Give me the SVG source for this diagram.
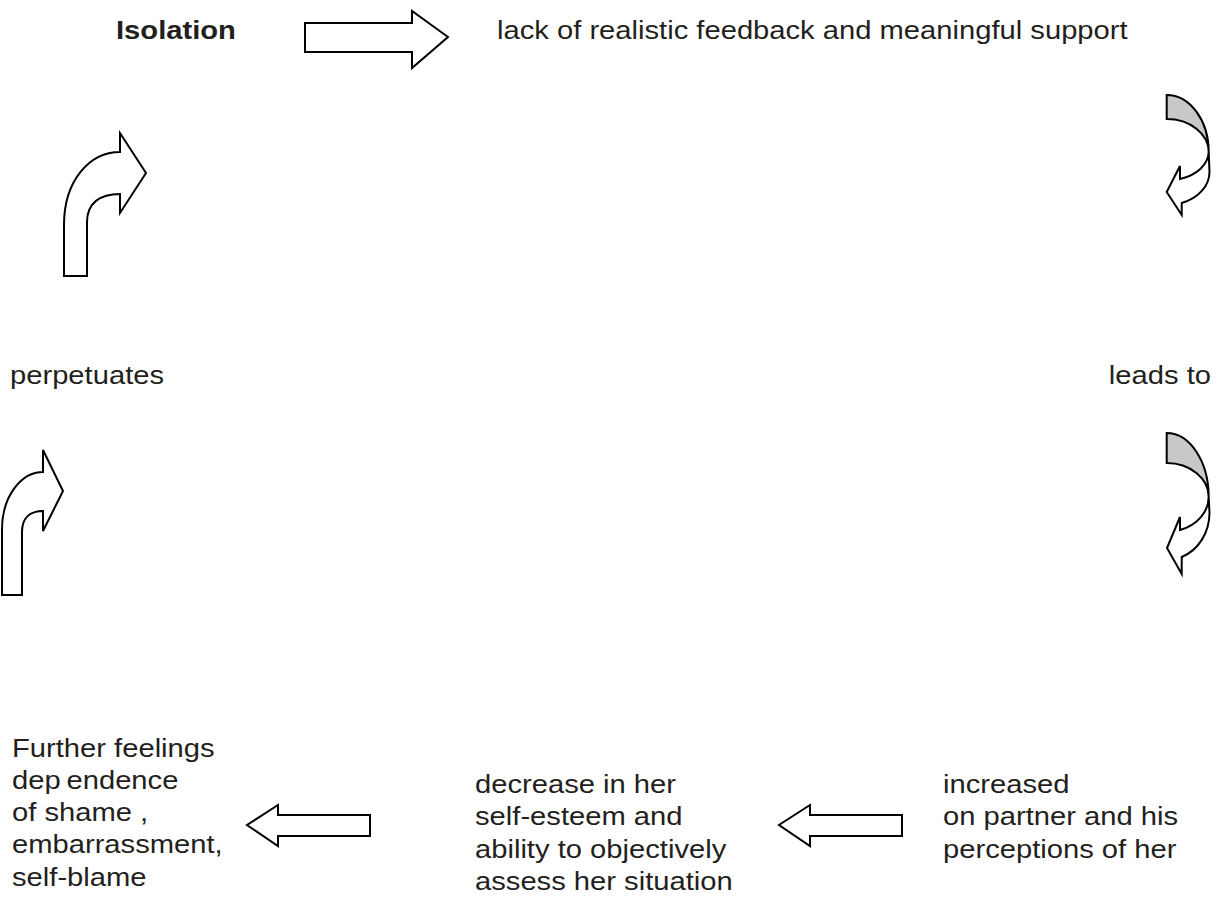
<svg xmlns="http://www.w3.org/2000/svg" width="1229" height="906" viewBox="0 0 1229 906">
<style>
.t{font-family:"Liberation Sans",Arial,sans-serif;font-size:25px;fill:#231f20}
.b{font-weight:bold}
.a{fill:#fff;stroke:#000;stroke-width:2;stroke-linejoin:miter}
.g{fill:#c8c8c8;stroke:#000;stroke-width:2}
</style>
<rect width="1229" height="906" fill="#fff"/>
<g id="connectors">
<path class="a" d="M305,23 L412,23 L412,11 L448,37 L412,68 L412,52 L305,52 Z"/>
<g id="curve1">
<path class="g" d="M1166.7,95 A42,57 0 0 1 1208.7,152 A42,33 0 0 0 1166.7,119 Z"/>
<path class="a" d="M1208.7,152 A42,29 0 0 1 1180,179 L1180,166 L1166.7,192 L1181.7,215 L1181.7,203 A42,33 0 0 0 1209.5,172 Z"/>
</g>
<g id="curve2">
<path class="g" d="M1166.7,433 A42,64 0 0 1 1208.7,497 A42,34 0 0 0 1166.7,463 Z"/>
<path class="a" d="M1208.7,497 A42,35 0 0 1 1180,530 L1180,517 L1167,548 L1181.7,574 L1181.7,557 A42,47 0 0 0 1209.5,513 Z"/>
</g>
<path class="a" d="M64,276 L64,225 C64,180 90,152 120,152 L120,133 L146,173 L120,213 L120,194 C100,194 87,203 87,222 L87,276 Z"/>
<path class="a" d="M2,595 L2,530 C2,495 22,472 43,472 L43,450 L63,491 L43,531 L43,511 C30,511 22,518 22,532 L22,595 Z"/>
<path class="a" d="M370,815 L278,815 L278,805 L247,825 L278,846 L278,836 L370,836 Z"/>
<path class="a" d="M902,815 L810,815 L810,805 L779,825 L810,846 L810,836 L902,836 Z"/>
</g>
<g id="n-isolation"><text class="t b" transform="translate(116,39) scale(1.167,1)">Isolation</text></g>
<g id="n-lack"><text class="t" transform="translate(497,39) scale(1.167,1)">lack of realistic feedback and meaningful support</text></g>
<g id="n-leads"><text class="t" text-anchor="end" transform="translate(1211,384) scale(1.167,1)">leads to</text></g>
<g id="n-perpetuates"><text class="t" transform="translate(10,384) scale(1.167,1)">perpetuates</text></g>
<g id="n-further"><text class="t" transform="translate(12,0) scale(1.167,1)"><tspan x="0" y="757">Further feelings</tspan><tspan x="0" y="789">dep</tspan><tspan dx="5">endence</tspan><tspan x="0" y="821">of shame ,</tspan><tspan x="0" y="853">embarrassment,</tspan><tspan x="0" y="886">self-blame</tspan></text></g>
<g id="n-decrease"><text class="t" transform="translate(475,0) scale(1.167,1)"><tspan x="0" y="793">decrease in her</tspan><tspan x="0" y="825">self-esteem and</tspan><tspan x="0" y="858">ability to objectively</tspan><tspan x="0" y="890">assess her situation</tspan></text></g>
<g id="n-increased"><text class="t" transform="translate(943,0) scale(1.167,1)"><tspan x="0" y="793">increased</tspan><tspan x="0" y="825">on partner and his</tspan><tspan x="0" y="858">perceptions of her</tspan></text></g>
</svg>
